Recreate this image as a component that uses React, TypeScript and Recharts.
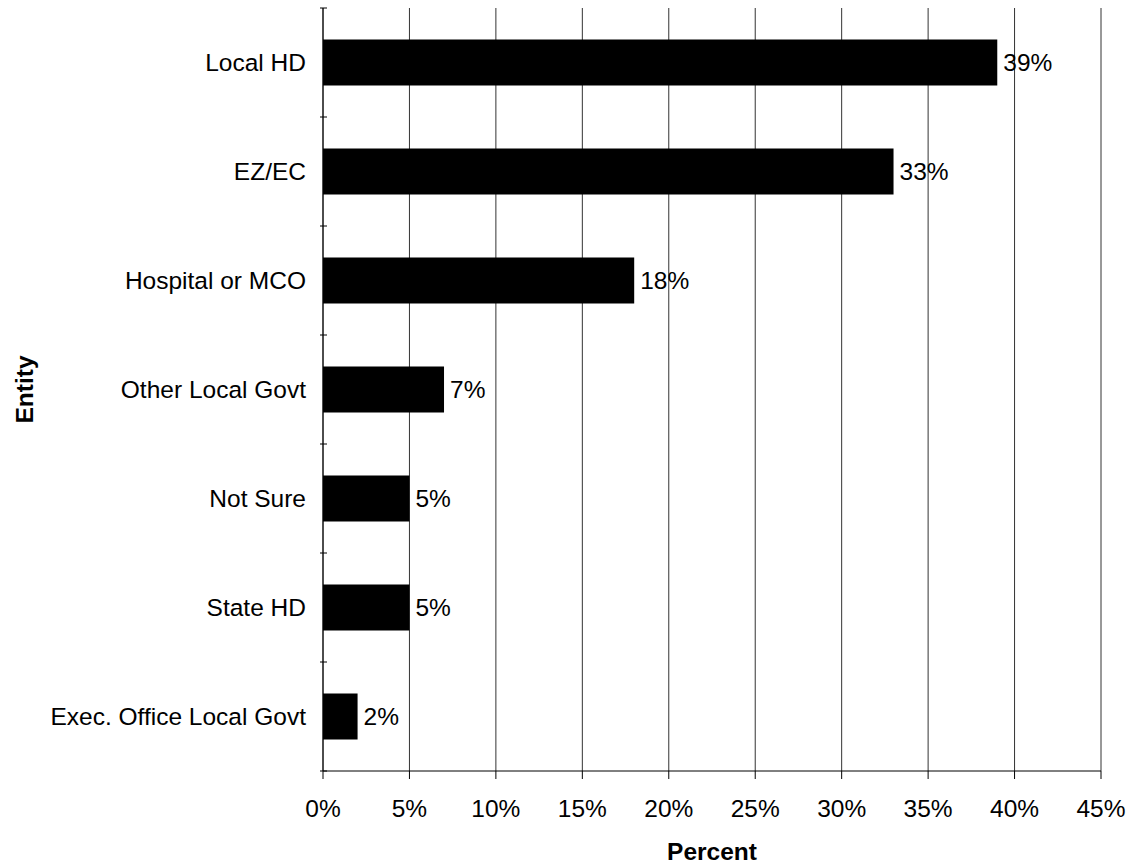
import React from 'react';
import { BarChart, Bar, XAxis, YAxis, CartesianGrid, LabelList } from 'recharts';

const categories = ['Local HD', 'EZ/EC', 'Hospital or MCO', 'Other Local Govt', 'Not Sure', 'State HD', 'Exec. Office Local Govt'];
const values = [39, 33, 18, 7, 5, 5, 2];
const xTicks = [0, 5, 10, 15, 20, 25, 30, 35, 40, 45];

const data = categories.map((c, i) => ({ name: c, value: values[i] }));
const FONT = 'Liberation Sans, Arial, sans-serif';
const FS = 24.5;

const CatTick = (props: any) => {
  const { x, y, payload, index, visibleTicksCount } = props;
  const half = payload.offset ?? 54.5;
  const ax = x + 12;
  return (
    <g>
      <line x1={ax - 7} x2={ax} y1={y - half} y2={y - half} stroke="#000" />
      {index === (visibleTicksCount ?? categories.length) - 1 && (
        <line x1={ax - 7} x2={ax} y1={y + half} y2={y + half} stroke="#000" />
      )}
      <text x={ax - 21} y={y} dy="0.35em" textAnchor="end" fontSize={FS} fontFamily={FONT} fill="#000">
        {payload.value}
      </text>
    </g>
  );
};

export default function App() {
  return (
    <div style={{ position: 'absolute', left: 0, top: 0, width: 1133, height: 867, background: '#fff' }}>
      <BarChart
        width={1133}
        height={867}
        data={data}
        layout="vertical"
        margin={{ top: 8, right: 32, bottom: 36, left: 123 }}
        barCategoryGap="29%"
      >
        <CartesianGrid horizontal={false} vertical stroke="#333" />
        <XAxis
          xAxisId="top"
          orientation="top"
          type="number"
          domain={[0, 45]}
          ticks={xTicks}
          tick={false}
          tickLine={false}
          height={0}
          axisLine={{ stroke: '#888' }}
        />
        <XAxis
          type="number"
          domain={[0, 45]}
          ticks={xTicks}
          tickFormatter={(v: number) => `${v}%`}
          tickSize={8}
          tickMargin={21}
          height={60}
          axisLine={{ stroke: '#000' }}
          tickLine={{ stroke: '#000' }}
          tick={{ fontSize: FS, fontFamily: FONT, fill: '#000' }}
          label={{ value: 'Percent', position: 'insideBottom', offset: -29, fontSize: FS, fontWeight: 'bold', fontFamily: FONT, fill: '#000' }}
        />
        <YAxis
          type="category"
          dataKey="name"
          width={200}
          tickLine={false}
          axisLine={{ stroke: '#000' }}
          tick={<CatTick />}
          interval={0}
          label={{ value: 'Entity', angle: -90, position: 'insideLeft', offset: -99, fontSize: FS, fontWeight: 'bold', fontFamily: FONT, fill: '#000', style: { textAnchor: 'middle' } }}
        />
        <Bar dataKey="value" fill="#000" isAnimationActive={false}>
          <LabelList
            dataKey="value"
            position="right"
            offset={6}
            formatter={(v: any) => `${v}%`}
            style={{ fontSize: FS, fontFamily: FONT, fill: '#000' }}
          />
        </Bar>
      </BarChart>
    </div>
  );
}
